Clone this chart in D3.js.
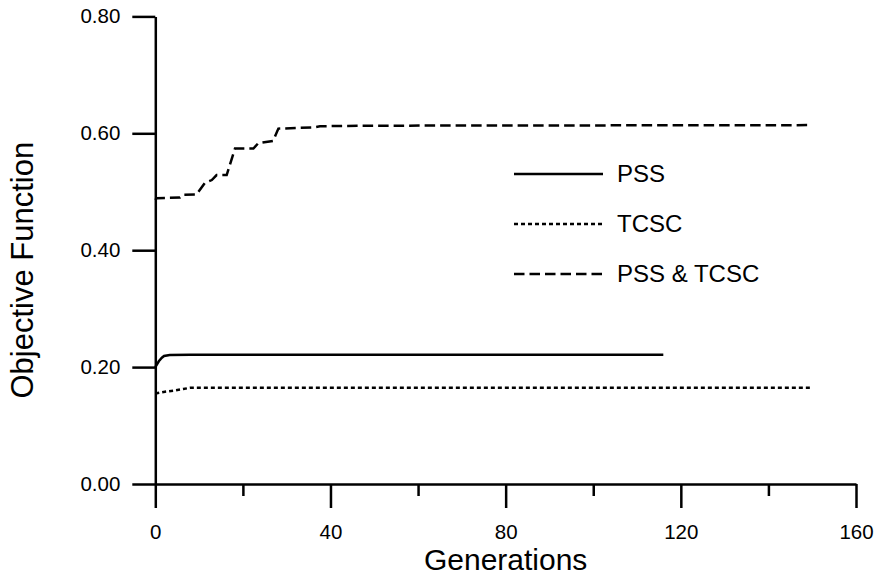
<!DOCTYPE html>
<html>
<head>
<meta charset="utf-8">
<script src="https://cdn.jsdelivr.net/npm/d3@7"></script>
<style>
  body { margin: 0; background: #fff; }
  text { font-family: "Liberation Sans", Arial, Helvetica, sans-serif; }
</style>
</head>
<body>
<svg id="chart" width="877" height="577"></svg>
<script>
// Data
var pssGen = [0, 0.8, 1.5, 2.0, 3.3, 8, 116];
var pssVal = [0.200, 0.210, 0.216, 0.219, 0.2207, 0.221, 0.221];

var tcscGen = [0, 2.2, 4.5, 6.4, 7.9, 149.5];
var tcscVal = [0.155, 0.158, 0.160, 0.1625, 0.1645, 0.1645];

var bothGen = [0, 0.3, 5.6, 6.4, 9.4, 11.3, 12.9, 14, 16.3, 18.2, 22.4, 23.5, 26.9, 28.1, 36, 37.6, 46.7, 149];
var bothVal = [0.486, 0.489, 0.490, 0.495, 0.4955, 0.515, 0.520, 0.5286, 0.5286, 0.574, 0.574, 0.583, 0.587, 0.608, 0.610, 0.612, 0.613, 0.614];

var xMajor = [0, 40, 80, 120, 160];
var xMinor = [20, 60, 100, 140];
var yTicks = [0, 0.2, 0.4, 0.6, 0.8];

var seriesNames = ["PSS", "TCSC", "PSS & TCSC"];
var dashes = [null, "4,3", "10.5,5"];

var svg = d3.select("#chart"),
    margin = {top: 16.4, left: 155.3, bottom: 93, right: 21};

var x = d3.scaleLinear()
    .domain([0, 160])
    .range([margin.left, 877 - margin.right]);

var y = d3.scaleLinear()
    .domain([0, 0.8])
    .range([577 - margin.bottom, margin.top]);

// x axis: major ticks with labels, minor ticks shorter
svg.append("g")
    .attr("transform", `translate(0,${y(0)})`)
    .call(d3.axisBottom(x).tickValues(xMajor).tickSize(24).tickSizeOuter(0).tickPadding(16).tickFormat(d3.format("d")));

svg.append("g")
    .attr("transform", `translate(0,${y(0)})`)
    .call(d3.axisBottom(x).tickValues(xMinor).tickSize(12).tickSizeOuter(0).tickFormat(""))
    .select(".domain").remove();

svg.append("g")
    .attr("transform", `translate(${x(0)},0)`)
    .call(d3.axisLeft(y).tickValues(yTicks).tickSize(23).tickSizeOuter(0).tickPadding(12).tickFormat(d3.format(".2f")));

svg.selectAll(".domain, .tick line")
    .attr("stroke", "#000")
    .attr("stroke-width", 2.5);

svg.selectAll(".tick text")
    .attr("fill", "#000")
    .style("font-size", "20.5px");

// Axis titles
svg.append("text")
    .attr("x", (x(0) + x(160)) / 2)
    .attr("y", 570)
    .style("text-anchor", "middle")
    .style("font-size", "30px")
    .text("Generations");

svg.append("text")
    .attr("transform", `translate(33,${(y(0) + y(0.8)) / 2 + 20}) rotate(-90)`)
    .style("text-anchor", "middle")
    .style("font-size", "31px")
    .text("Objective Function");

// Lines
var line = d3.line()
    .x(d => x(d[0]))
    .y(d => y(d[1]));

var series = [
    d3.zip(pssGen, pssVal),
    d3.zip(tcscGen, tcscVal),
    d3.zip(bothGen, bothVal)
];

series.forEach(function (s, i) {
    svg.append("path")
        .datum(s)
        .attr("fill", "none")
        .attr("stroke", "#000")
        .attr("stroke-width", 2.5)
        .attr("stroke-dasharray", dashes[i])
        .attr("d", line);
});

// Legend
var legend = svg.selectAll(".legend")
    .data(seriesNames)
    .enter().append("g")
    .attr("class", "legend")
    .attr("transform", function (d, i) {
        return "translate(514," + (174 + i * 50) + ")";
    });

legend.append("line")
    .attr("x1", 0)
    .attr("x2", 89)
    .attr("stroke", "#000")
    .attr("stroke-width", 2.5)
    .attr("stroke-dasharray", (d, i) => dashes[i]);

legend.append("text")
    .attr("x", 103)
    .attr("dy", ".35em")
    .style("font-size", "24px")
    .text(d => d);
</script>
</body>
</html>
